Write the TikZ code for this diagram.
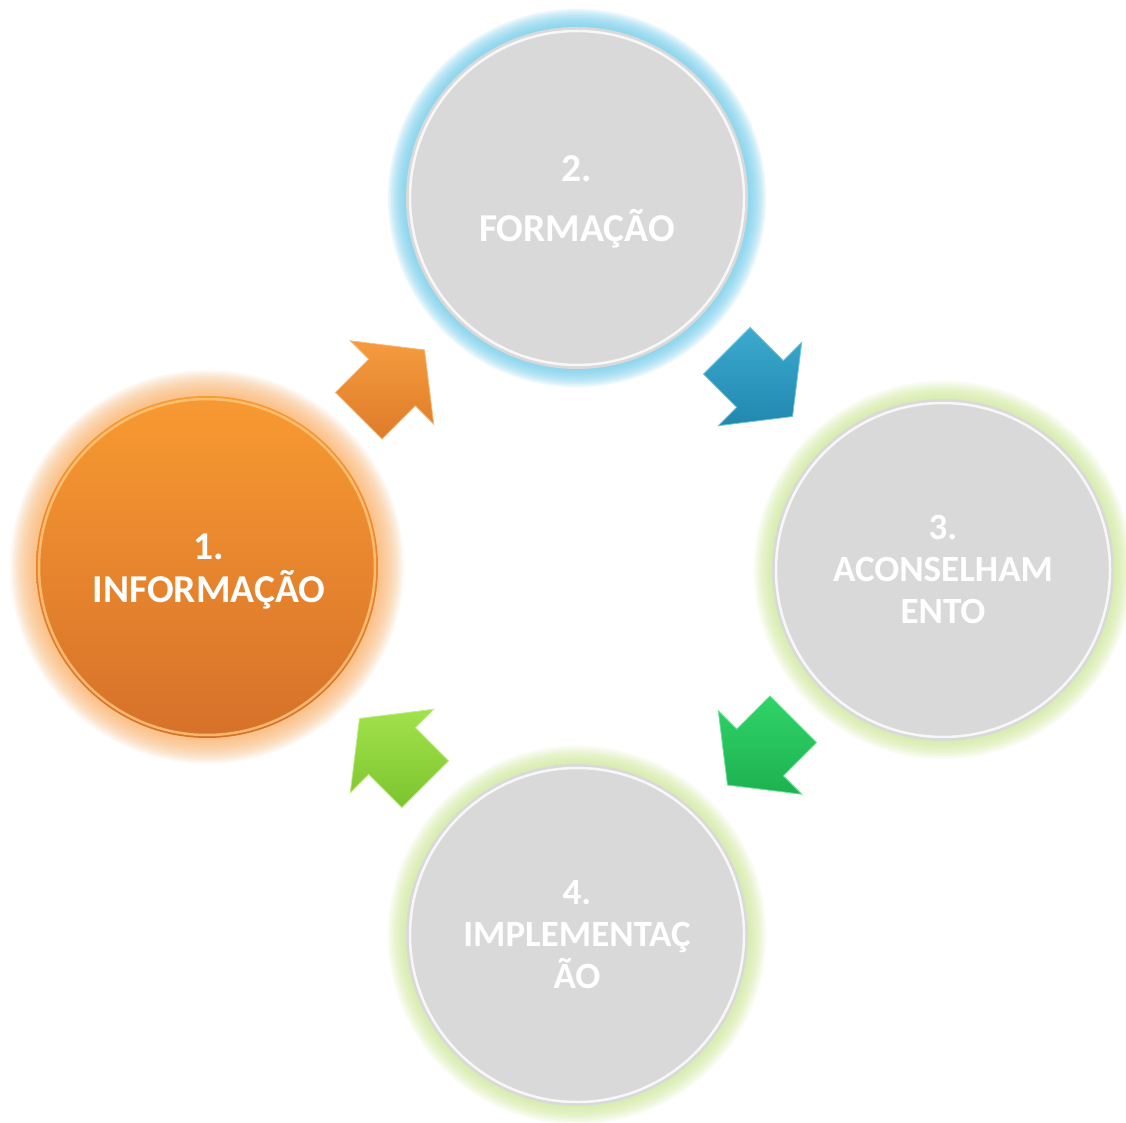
\documentclass[tikz,border=0pt]{standalone}
\usepackage{fontspec}
\setmainfont{Carlito}
\usetikzlibrary{calc}
\definecolor{orA}{HTML}{F89A32}
\definecolor{orB}{HTML}{D6712A}
\definecolor{orGlow}{HTML}{FBB064}
\definecolor{orRim}{HTML}{FFC97E}
\definecolor{greyC}{HTML}{D9D9D9}
\definecolor{blueGlow}{HTML}{78D0EE}
\definecolor{greenGlow}{HTML}{CFEA96}
\definecolor{arOrA}{HTML}{F59B3E}
\definecolor{arOrB}{HTML}{DE7C28}
\definecolor{arBlA}{HTML}{3CAAD0}
\definecolor{arBlB}{HTML}{2187AD}
\definecolor{arGrA}{HTML}{30D468}
\definecolor{arGrB}{HTML}{1DB150}
\definecolor{arLgA}{HTML}{A2E24C}
\definecolor{arLgB}{HTML}{7CC42E}
\begin{document}
\begin{tikzpicture}[x=1pt,y=1pt,
  stage/.style={circle, minimum size=342pt, inner sep=0pt},
  stagetext/.style={inner sep=0pt, align=center, text=white},
  bigfont/.style={font=\fontsize{39.5}{43}\selectfont\bfseries},
  smallfont/.style={font=\fontsize{37}{42}\selectfont\bfseries},
  rim/.style={line width=2.5pt, opacity=0.8},
  orArrow/.style={top color=arOrA, bottom color=arOrB, draw=arOrA!70!white, line width=0.8pt},
  blArrow/.style={top color=arBlA, bottom color=arBlB, draw=arBlA!70!white, line width=0.8pt},
  grArrow/.style={top color=arGrA, bottom color=arGrB, draw=arGrA!70!white, line width=0.8pt},
  lgArrow/.style={top color=arLgA, bottom color=arLgB, draw=arLgA!70!white, line width=0.8pt},
  pics/blockarrow/.style={code={
    \shade[#1] (-47,-33) -- (0,-33) -- (0,-59) -- (46,0) -- (0,59) -- (0,33) -- (-47,33) -- cycle;
  }}
]
\useasboundingbox (0,0) rectangle (1126,1122);
\fill[white] (0,0) rectangle (1126,1122);

\coordinate (p1) at (207,555);
\coordinate (p2) at (577,924);
\coordinate (p3) at (943,552);
\coordinate (p4) at (577,187);

% glows
\foreach \k in {1,...,14} \fill[orGlow, opacity=0.09] (p1) circle ({170+1.9*\k});
\foreach \k in {1,...,12} \fill[blueGlow, opacity=0.13] (p2) circle ({170+1.6*\k});
\foreach \k in {1,...,12} \fill[greenGlow, opacity=0.10] (p3) circle ({170+1.6*\k});
\foreach \k in {1,...,12} \fill[greenGlow, opacity=0.10] (p4) circle ({170+1.6*\k});

% circles
\node[stage, top color=orA, bottom color=orB] (c1) at (p1) {};
\node[stage, fill=greyC] (c2) at (p2) {};
\node[stage, fill=greyC] (c3) at (p3) {};
\node[stage, fill=greyC] (c4) at (p4) {};

% rims
\draw[rim, orRim] (c1.center) circle (168);
\draw[rim, white] (c2.center) circle (167);
\draw[rim, white] (c3.center) circle (167);
\draw[rim, white] (c4.center) circle (167);

% texts
\node[stagetext, bigfont] (t1) at ($(c1.center)+(2,-4)$) {1.\\INFORMAÇÃO};
\node[stagetext, bigfont] (t2) at ($(c2.center)+(0,-4)$) {2.\\[17pt]FORMAÇÃO};
\node[stagetext, smallfont] (t3) at ($(c3.center)+(0,1)$) {3.\\ACONSELHAM\\ENTO};
\node[stagetext, smallfont] (t4) at ($(c4.center)+(0,0)$) {4.\\IMPLEMENTAÇ\\ÃO};

% arrows between stages
\pic[rotate=45]   at ($(c1.center)!0.5!(c2.center)$) {blockarrow=orArrow};
\pic[rotate=-45]  at ($(c2.center)!0.5!(c3.center)$) {blockarrow=blArrow};
\pic[rotate=-135] at ($(c3.center)!0.5!(c4.center)$) {blockarrow=grArrow};
\pic[rotate=135]  at ($(c4.center)!0.5!(c1.center)$) {blockarrow=lgArrow};
\end{tikzpicture}
\end{document}
